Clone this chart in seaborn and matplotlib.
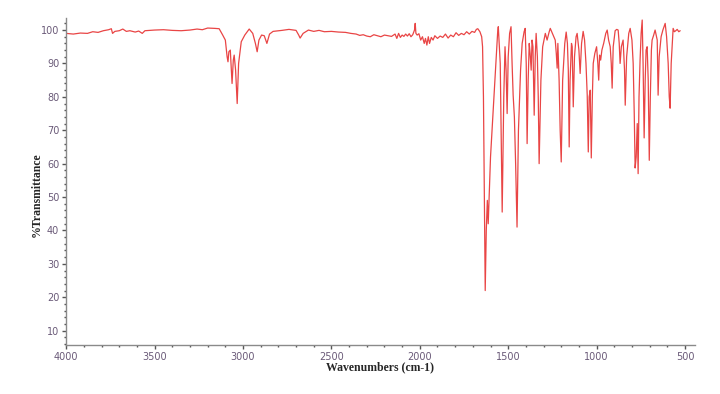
# 📦 Import libraries
import pandas as pd
import matplotlib
matplotlib.use("Agg")
import matplotlib.pyplot as plt
from matplotlib.ticker import MultipleLocator
import seaborn as sns

# 📊 IR spectrum values (wavenumber cm-1, %T)
wavenumbers = [
    4000, 3960, 3920, 3880, 3850, 3820, 3790, 3760, 3745, 3738, 3725, 3700,
    3680, 3660, 3640, 3610, 3590, 3570, 3555, 3500, 3450, 3400, 3350, 3300,
    3260, 3230, 3200, 3160, 3135, 3115, 3100, 3090, 3085, 3080, 3072, 3062,
    3055, 3050, 3042, 3033, 3025, 3010, 2990, 2965, 2945, 2930, 2920, 2910,
    2895, 2880, 2865, 2850, 2830, 2780, 2740, 2700, 2685, 2677, 2660, 2630,
    2600, 2570, 2540, 2500, 2460, 2420, 2390, 2360, 2340, 2320, 2300, 2280,
    2260, 2240, 2220, 2200, 2180, 2160, 2140, 2130, 2120, 2110, 2100, 2090,
    2080, 2070, 2060, 2050, 2040, 2030, 2026, 2022, 2015, 2005, 1995, 1985,
    1975, 1968, 1960, 1952, 1945, 1935, 1925, 1915, 1900, 1885, 1870, 1855,
    1840, 1825, 1810, 1795, 1780, 1765, 1750, 1735, 1720, 1705, 1690, 1680,
    1672, 1660, 1650, 1645, 1640, 1635, 1630, 1624, 1618, 1613, 1600, 1585,
    1570, 1560, 1556, 1545, 1534, 1525, 1518, 1512, 1506, 1500, 1492, 1484,
    1478, 1472, 1465, 1458, 1450, 1442, 1430, 1421, 1410, 1404, 1398, 1393,
    1387, 1381, 1376, 1370, 1365, 1360, 1353, 1347, 1342, 1335, 1330, 1325,
    1315, 1305, 1290, 1280, 1268, 1262, 1250, 1234, 1228, 1223, 1219, 1212,
    1206, 1200, 1192, 1180, 1172, 1165, 1160, 1155, 1150, 1142, 1138, 1132,
    1125, 1116, 1110, 1100, 1093, 1085, 1076, 1068, 1060, 1053, 1047, 1042,
    1036, 1030, 1024, 1019, 1010, 1000, 993, 988, 983, 977, 970, 960,
    948, 940, 932, 923, 917, 912, 906, 895, 886, 878, 872, 867,
    860, 850, 842, 838, 830, 818, 810, 800, 793, 787, 782, 776,
    770, 765, 760, 754, 748, 742, 737, 731, 725, 720, 714, 708,
    702, 696, 690, 686, 677, 669, 663, 657, 652, 646, 635, 625,
    612, 604, 595, 589, 584, 578, 567, 560, 552, 544, 535, 527,
]
transmittance = [
    99.0, 98.8, 99.1, 99.0, 99.5, 99.3, 99.8, 100.1, 100.4, 99.0, 99.6, 99.8,
    100.3, 99.6, 99.8, 99.4, 99.7, 99.0, 99.8, 100.0, 100.1, 99.9, 99.8, 100.0,
    100.3, 100.1, 100.6, 100.5, 100.4, 98.5, 97.0, 92.0, 90.5, 93.5, 94.0, 84.0,
    91.0, 92.5, 88.0, 78.0, 90.0, 96.5, 98.5, 100.3, 99.0, 96.0, 93.5, 97.0,
    98.5, 98.3, 96.0, 98.8, 99.6, 99.9, 100.2, 99.9, 98.5, 97.6, 99.0, 100.0,
    99.6, 99.9, 99.5, 99.6, 99.4, 99.3, 99.0, 98.8, 98.4, 98.6, 98.2, 98.0,
    98.6, 98.3, 98.0, 98.5, 98.3, 98.1, 98.8, 97.5, 99.0, 97.8, 98.5, 98.1,
    98.8, 98.2, 98.9, 98.0, 98.6, 100.0, 102.0, 99.0, 98.5, 98.9, 97.0, 98.0,
    96.0, 97.5, 95.5, 98.0, 96.0, 97.8, 97.0, 98.3, 97.5, 98.2, 97.8, 98.8,
    97.6, 98.5, 98.0, 99.2, 98.4, 99.0, 98.6, 99.5, 98.8, 99.6, 99.3, 100.2,
    100.4, 99.5, 98.0, 95.0, 80.0, 50.0, 22.0, 40.0, 49.0, 42.0, 62.0, 76.0,
    90.0, 99.0, 101.0, 90.0, 45.5, 80.0, 95.0, 88.0, 75.0, 92.0, 99.0, 101.0,
    90.0, 80.5, 74.0, 60.0, 41.0, 70.0, 88.0, 96.0, 99.5, 100.5, 90.0, 66.0,
    85.0, 96.0, 93.0, 88.0, 97.0, 95.0, 74.5, 92.0, 99.0, 92.0, 80.0, 60.0,
    85.0, 95.0, 99.0, 97.0, 99.5, 100.5, 99.0, 97.0, 93.0, 88.6, 96.0, 85.0,
    70.0, 60.5, 85.0, 96.0, 99.4, 96.0, 88.0, 65.0, 85.0, 96.0, 95.0, 77.0,
    92.0, 98.0, 99.0, 94.0, 87.0, 96.0, 99.6, 97.0, 90.0, 80.5, 63.5, 80.0,
    82.0, 61.7, 80.0, 90.0, 93.0, 95.0, 90.0, 85.0, 92.5, 91.0, 94.0, 96.0,
    99.0, 100.0, 97.0, 95.0, 90.0, 82.6, 95.0, 99.8, 100.2, 100.0, 96.0, 90.0,
    95.0, 97.0, 88.0, 77.5, 92.0, 99.0, 100.5, 97.0, 90.0, 75.0, 58.7, 62.0,
    72.0, 57.0, 80.0, 91.0, 99.0, 103.0, 90.0, 67.7, 85.0, 94.0, 95.0, 85.0,
    61.0, 80.0, 94.0, 97.0, 98.5, 100.0, 98.5, 97.0, 80.5, 92.0, 98.0, 100.0,
    102.0, 98.0, 90.0, 80.0, 76.6, 90.0, 100.5, 99.5, 99.8, 100.2, 99.5, 99.8,
]

df = pd.DataFrame({"Wavenumber": wavenumbers, "Transmittance": transmittance})

# 🎨 Style
sns.set_style("white")
tick_color = "#6a5a78"
spine_color = "#8a8a8a"

fig = plt.figure(figsize=(7.2, 3.94), dpi=100)
ax = fig.add_axes([0.092, 0.1244, 0.8736, 0.829])

sns.lineplot(data=df, x="Wavenumber", y="Transmittance", ax=ax,
             color="#e94545", linewidth=0.9, sort=False, estimator=None)

ax.set_xlim(4000, 442)
ax.set_ylim(5.7, 103.5)

ax.xaxis.set_major_locator(MultipleLocator(500))
ax.xaxis.set_minor_locator(MultipleLocator(100))
ax.yaxis.set_major_locator(MultipleLocator(10))
ax.yaxis.set_minor_locator(MultipleLocator(2))
ax.set_yticks(range(10, 101, 10))

ax.tick_params(which="major", length=3, width=1, color="#555555",
               labelsize=7, labelcolor=tick_color, pad=2,
               left=True, bottom=True)
ax.tick_params(which="minor", length=1.5, width=1, color="#555555",
               left=True, bottom=True)

for side in ["top", "right"]:
    ax.spines[side].set_visible(False)
for side in ["left", "bottom"]:
    ax.spines[side].set_color(spine_color)
    ax.spines[side].set_linewidth(1)

# 🏷️ Axis labels
ax.set_xlabel("Wavenumbers (cm-1)", family="Liberation Serif",
              fontweight="bold", fontsize=8.5)
ax.set_ylabel("%Transmittance", family="Liberation Serif",
              fontweight="bold", fontsize=8.5)
ax.xaxis.set_label_coords(0.499, -0.05)
ax.yaxis.set_label_coords(-0.037, 0.46)

plt.savefig("out.png", dpi=100)
